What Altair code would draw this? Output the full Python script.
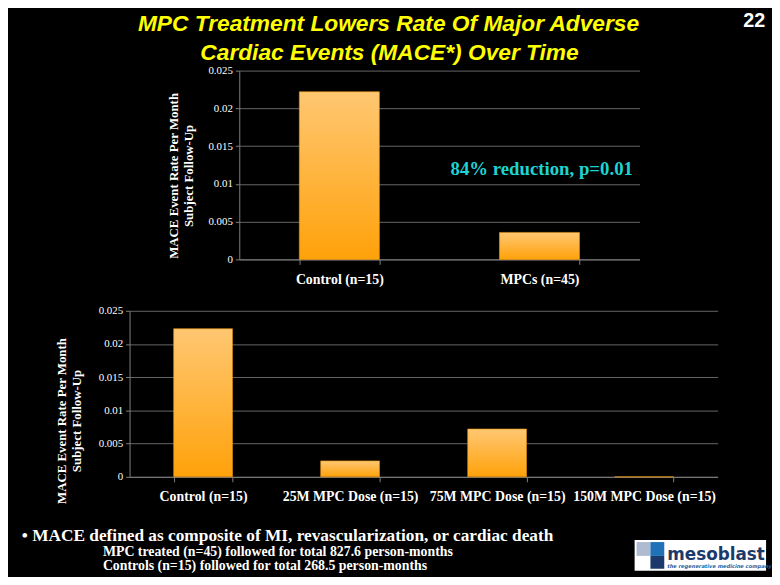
import altair as alt
import pandas as pd

# ---------------- data ----------------
title_lines = ["MPC Treatment Lowers Rate Of Major Adverse", "Cardiac Events (MACE*) Over Time"]
page_number = "22"
y_title = ["MACE Event Rate Per Month", "Subject Follow-Up"]
y_ticks = [0, 0.005, 0.01, 0.015, 0.02, 0.025]

top_categories = ["Control (n=15)", "MPCs (n=45)"]
top_values = [0.0222, 0.00357]
top_note = "84% reduction, p=0.01"

bottom_categories = ["Control (n=15)", "25M MPC Dose (n=15)", "75M MPC Dose (n=15)", "150M MPC Dose (n=15)"]
bottom_values = [0.0223, 0.0024, 0.0072, 0.0]

footnote_lines = [
    "\u2022 MACE defined as composite of MI, revascularization, or cardiac death",
    "MPC treated  (n=45) followed for total 827.6 person-months",
    "Controls (n=15) followed for total 268.5 person-months",
]
logo_name = "mesoblast"
logo_tagline = "the regenerative medicine company"

GRID = "#808080"
SERIF = "Liberation Serif"

gradient = alt.Gradient(
    gradient="linear",
    stops=[alt.GradientStop(color="#FFC772", offset=0), alt.GradientStop(color="#FFA20A", offset=1)],
    x1=0, x2=0, y1=0, y2=1,
)


def bar_chart(cats, vals, w, h, title_x, title_y):
    df = pd.DataFrame({"cat": cats, "val": vals})
    return alt.Chart(df).mark_bar(color=gradient, stroke="#E89410", strokeWidth=0.6).encode(
        x=alt.X(
            "cat:N", sort=cats,
            scale=alt.Scale(paddingInner=0.6, paddingOuter=0.3),
            axis=alt.Axis(
                title=None, labelAngle=0, labelFont=SERIF, labelFontWeight="bold",
                labelFontSize=14, labelColor="white", labelPadding=8,
                tickBand="extent", tickColor=GRID, tickSize=5, domainColor=GRID, grid=False,
            ),
        ),
        y=alt.Y(
            "val:Q",
            scale=alt.Scale(domain=[0, 0.025], nice=False),
            axis=alt.Axis(
                values=y_ticks, format="~g", title=y_title,
                titleFont=SERIF, titleFontWeight="bold", titleFontSize=13, titleColor="white",
                titleX=title_x, titleY=title_y, titleAngle=-90, titleAlign="center", titleBaseline="middle",
                titleLineHeight=15,
                labelFont=SERIF, labelFontSize=11, labelColor="white", labelPadding=3,
                tickColor=GRID, tickSize=4, domainColor=GRID, grid=True, gridColor=GRID, gridWidth=0.8,
            ),
        ),
    ).properties(width=w, height=h)


def text_mark(text, x, y, **kw):
    return alt.Chart(pd.DataFrame({"t": [text]})).mark_text(**kw).encode(
        text="t:N", x=alt.value(x), y=alt.value(y)
    )


def rect_mark(x, x2, y, y2, color):
    return alt.Chart(pd.DataFrame({"a": [0]})).mark_rect(color=color).encode(
        x=alt.value(x), x2=alt.value(x2), y=alt.value(y), y2=alt.value(y2)
    )


# ---------------- top panel ----------------
top_bars = bar_chart(top_categories, top_values, 405, 191, -66, 106)
title1 = text_mark(title_lines[0], 151, -47, font="Liberation Sans", fontSize=23, fontWeight="bold",
                   fontStyle="italic", color="#FFFF00", align="center", baseline="middle")
title2 = text_mark(title_lines[1], 152, -18, font="Liberation Sans", fontSize=23, fontWeight="bold",
                   fontStyle="italic", color="#FFFF00", align="center", baseline="middle")
pnum = text_mark(page_number, 521, -50, font="Liberation Sans", fontSize=20, fontWeight="bold",
                 color="white", align="center", baseline="middle")
note = text_mark(top_note, 306, 100, font=SERIF, fontSize=19, fontWeight="bold",
                 color="#1ED3D3", align="center", baseline="middle")
top = alt.layer(top_bars, note, title1, title2, pnum)

spacer = alt.Chart(pd.DataFrame({"a": [0]})).mark_point(opacity=0).encode(
    x=alt.value(0), y=alt.value(0)
).properties(width=7, height=191)

top_row = alt.hconcat(spacer, top, spacing=0)

# ---------------- bottom panel ----------------
bottom_bars = bar_chart(bottom_categories, bottom_values, 595, 168, -69, 111)
fn1 = text_mark(footnote_lines[0], -109, 228, font=SERIF, fontSize=17.5, fontWeight="bold",
                color="white", align="left", baseline="middle")
fn2 = text_mark(footnote_lines[1], -27, 244, font=SERIF, fontSize=14, fontWeight="bold",
                color="white", align="left", baseline="middle")
fn3 = text_mark(footnote_lines[2], -27, 258.5, font=SERIF, fontSize=14, fontWeight="bold",
                color="white", align="left", baseline="middle")
logo_bg = rect_mark(511, 644, 232, 263, "white")
logo_q1 = rect_mark(513, 527, 234, 248, "#AFBBD0")
logo_q2 = rect_mark(527, 541, 234, 248, "#1F72B8")
logo_q3 = rect_mark(527, 541, 248, 261, "#1B3A6B")
logo_txt = text_mark(logo_name, 544, 247, font="DejaVu Sans", fontSize=17, fontWeight="bold",
                     color="#1B3A6B", align="left", baseline="middle")
logo_tag = text_mark(logo_tagline, 544, 258, font="DejaVu Sans", fontSize=5.2, fontStyle="italic",
                     fontWeight="bold", color="#1F5FA0", align="left", baseline="middle")
bottom = alt.layer(bottom_bars, fn1, fn2, fn3, logo_bg, logo_q1, logo_q2, logo_q3, logo_txt, logo_tag)

chart = alt.vconcat(top_row, bottom, spacing=19).properties(
    padding={"left": 14, "top": 0, "right": 0, "bottom": 0}
).configure(background="black").configure_view(stroke=None)

chart.save("out.html", embed_options={"renderer": "svg", "actions": False})
